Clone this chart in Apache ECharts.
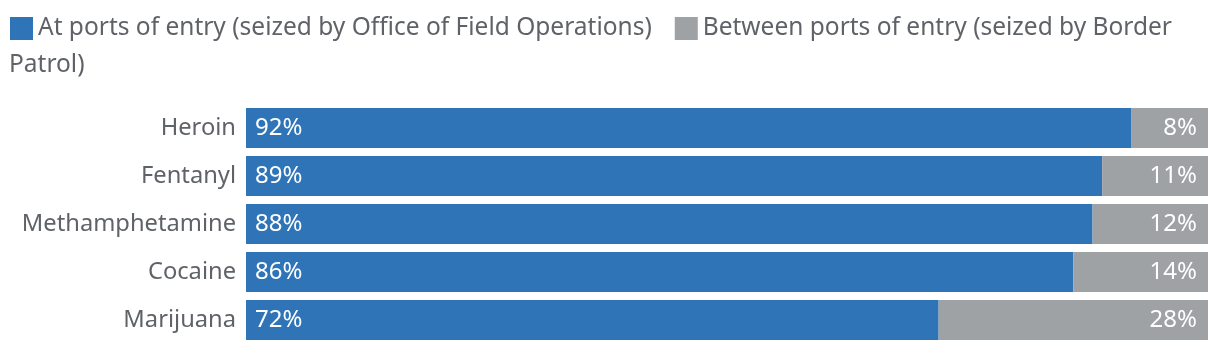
<html>
<head>
    <meta charset='utf-8' />
    <title>Drug seizures by location</title>
    <style>
        body {
            margin: 0;
            padding: 0;
            background: #fff;
        }

        #chart {
            width: 1220px;
            height: 352px;
        }
    </style>
</head>
<body>
    <div id='chart'></div>
    <script type="text/javascript" src="https://cdn.jsdelivr.net/npm/echarts@6/dist/echarts.min.js"></script>
    <script type="text/javascript">
        var categories = ['Heroin', 'Fentanyl', 'Methamphetamine', 'Cocaine', 'Marijuana'];
        var atPorts = [92, 89, 88, 86, 72];
        var betweenPorts = [8, 11, 12, 14, 28];
        var seriesNames = ['At ports of entry (seized by Office of Field Operations)',
            'Between ports of entry (seized by Border Patrol)'];

        var textColor = '#5f6368';
        var font = 'Noto Sans';
        var myChart = echarts.init(document.getElementById('chart'));

        myChart.setOption({
            animation: false,
            legend: {
                left: 10,
                top: 16,
                padding: 0,
                itemWidth: 23,
                itemHeight: 23,
                itemGap: 23,
                icon: 'rect',
                textStyle: { color: textColor, fontSize: 24.5, fontFamily: font },
                // the second entry wraps in the original, its last word sits on line two
                formatter: function (name) {
                    return name === seriesNames[1] ? 'Between ports of entry (seized by Border' : name;
                },
                data: seriesNames
            },
            graphic: [{
                type: 'text',
                left: 9,
                top: 53,
                style: { text: 'Patrol)', fill: textColor, fontSize: 24.5, fontFamily: font }
            }],
            grid: {
                left: 246,
                right: 12,
                top: 104,
                bottom: 8
            },
            xAxis: {
                type: 'value',
                min: 0,
                max: 100,
                show: false
            },
            yAxis: {
                type: 'category',
                data: categories,
                inverse: true,
                axisLine: { show: false },
                axisTick: { show: false },
                axisLabel: { color: textColor, fontSize: 23.7, fontFamily: font, margin: 10 }
            },
            series: [{
                name: seriesNames[0],
                type: 'bar',
                stack: 'total',
                barWidth: 40,
                data: atPorts,
                itemStyle: { color: '#2f74b7' },
                label: {
                    show: true,
                    position: 'insideLeft',
                    distance: 9,
                    formatter: '{c}%',
                    color: '#fff',
                    fontSize: 24,
                    fontFamily: font
                }
            }, {
                name: seriesNames[1],
                type: 'bar',
                stack: 'total',
                barWidth: 40,
                data: betweenPorts,
                itemStyle: { color: '#9ea2a5' },
                label: {
                    show: true,
                    position: 'insideRight',
                    distance: 11,
                    formatter: '{c}%',
                    color: '#fff',
                    fontSize: 24,
                    fontFamily: font
                }
            }]
        });
    </script>
</body>
</html>
